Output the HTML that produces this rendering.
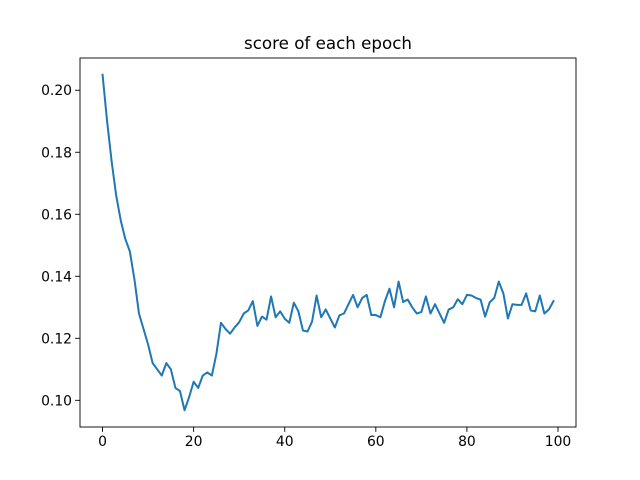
<!DOCTYPE html>
<html><head><meta charset="utf-8"><style>
body{margin:0;background:#fff}
svg{display:block;font-family:"DejaVu Sans","Liberation Sans",sans-serif}
</style></head><body>
<svg id="chart" width="640" height="480">
<rect x="0" y="0" width="640" height="480" fill="#fff"/>
<text x="328" y="49" font-size="16.7" text-anchor="middle">score of each epoch</text>
<g id="ticks"></g>
<path id="line" fill="none" stroke="#1f77b4" stroke-width="2" stroke-linejoin="round" stroke-linecap="square"/>
<rect x="80" y="58" width="496" height="369" fill="none" stroke="#000" stroke-width="0.9"/>
</svg>
<script>
const scores=[0.205,0.190,0.177,0.166,0.158,0.152,0.148,0.139,0.128,0.123,0.118,0.112,0.110,0.108,0.112,0.110,0.104,0.103,0.0968,0.101,0.106,0.104,0.108,0.109,0.108,0.115,0.125,0.123,0.1215,0.1235,0.1252,0.128,0.129,0.132,0.124,0.127,0.126,0.1335,0.1268,0.1287,0.1263,0.125,0.1315,0.1287,0.1225,0.1222,0.1254,0.1338,0.1268,0.1293,0.1264,0.1235,0.1274,0.128,0.131,0.134,0.130,0.133,0.134,0.1275,0.1275,0.1268,0.132,0.136,0.130,0.1383,0.1317,0.1325,0.130,0.128,0.1285,0.1335,0.128,0.131,0.128,0.125,0.1293,0.130,0.1326,0.131,0.134,0.1338,0.133,0.1325,0.127,0.1316,0.133,0.1383,0.1345,0.1264,0.131,0.1308,0.1308,0.1345,0.129,0.1287,0.1338,0.128,0.1293,0.132];
const xTicks=[0,20,40,60,80,100];
const yTicks=[0.10,0.12,0.14,0.16,0.18,0.20];
const X0=80,X1=576,Y0=58,Y1=427;
const xMin=-4.95,xMax=103.95,yMin=0.0914,yMax=0.2104;
const sx=v=>X0+(v-xMin)/(xMax-xMin)*(X1-X0);
const sy=v=>Y1-(v-yMin)/(yMax-yMin)*(Y1-Y0);
const ns="http://www.w3.org/2000/svg";
const g=document.getElementById('ticks');
xTicks.forEach(t=>{
 const l=document.createElementNS(ns,'line');
 l.setAttribute('x1',sx(t));l.setAttribute('x2',sx(t));l.setAttribute('y1',Y1);l.setAttribute('y2',Y1+4.9);l.setAttribute('stroke','#000');l.setAttribute('stroke-width','0.9');
 
 
 g.appendChild(l);
 const tx=document.createElementNS(ns,'text');
 tx.setAttribute('x',sx(t));tx.setAttribute('y',Y1+19);tx.setAttribute('font-size','13.9');tx.setAttribute('text-anchor','middle');
 tx.textContent=t;
 
 
 g.appendChild(tx);
});
yTicks.forEach(t=>{
 const l=document.createElementNS(ns,'line');
 l.setAttribute('x1',X0-4.9);l.setAttribute('x2',X0);l.setAttribute('y1',sy(t));l.setAttribute('y2',sy(t));l.setAttribute('stroke','#000');l.setAttribute('stroke-width','0.9');
 
 
 g.appendChild(l);
 const tx=document.createElementNS(ns,'text');
 tx.setAttribute('x',X0-8);tx.setAttribute('y',sy(t)+5);tx.setAttribute('font-size','13.9');tx.setAttribute('text-anchor','end');
 tx.textContent=t.toFixed(2);
 
 
 g.appendChild(tx);
});
document.getElementById('line').setAttribute('d',scores.map((v,i)=>(i?'L':'M')+sx(i).toFixed(2)+','+sy(v).toFixed(2)).join(''));
</script>
</body></html>
